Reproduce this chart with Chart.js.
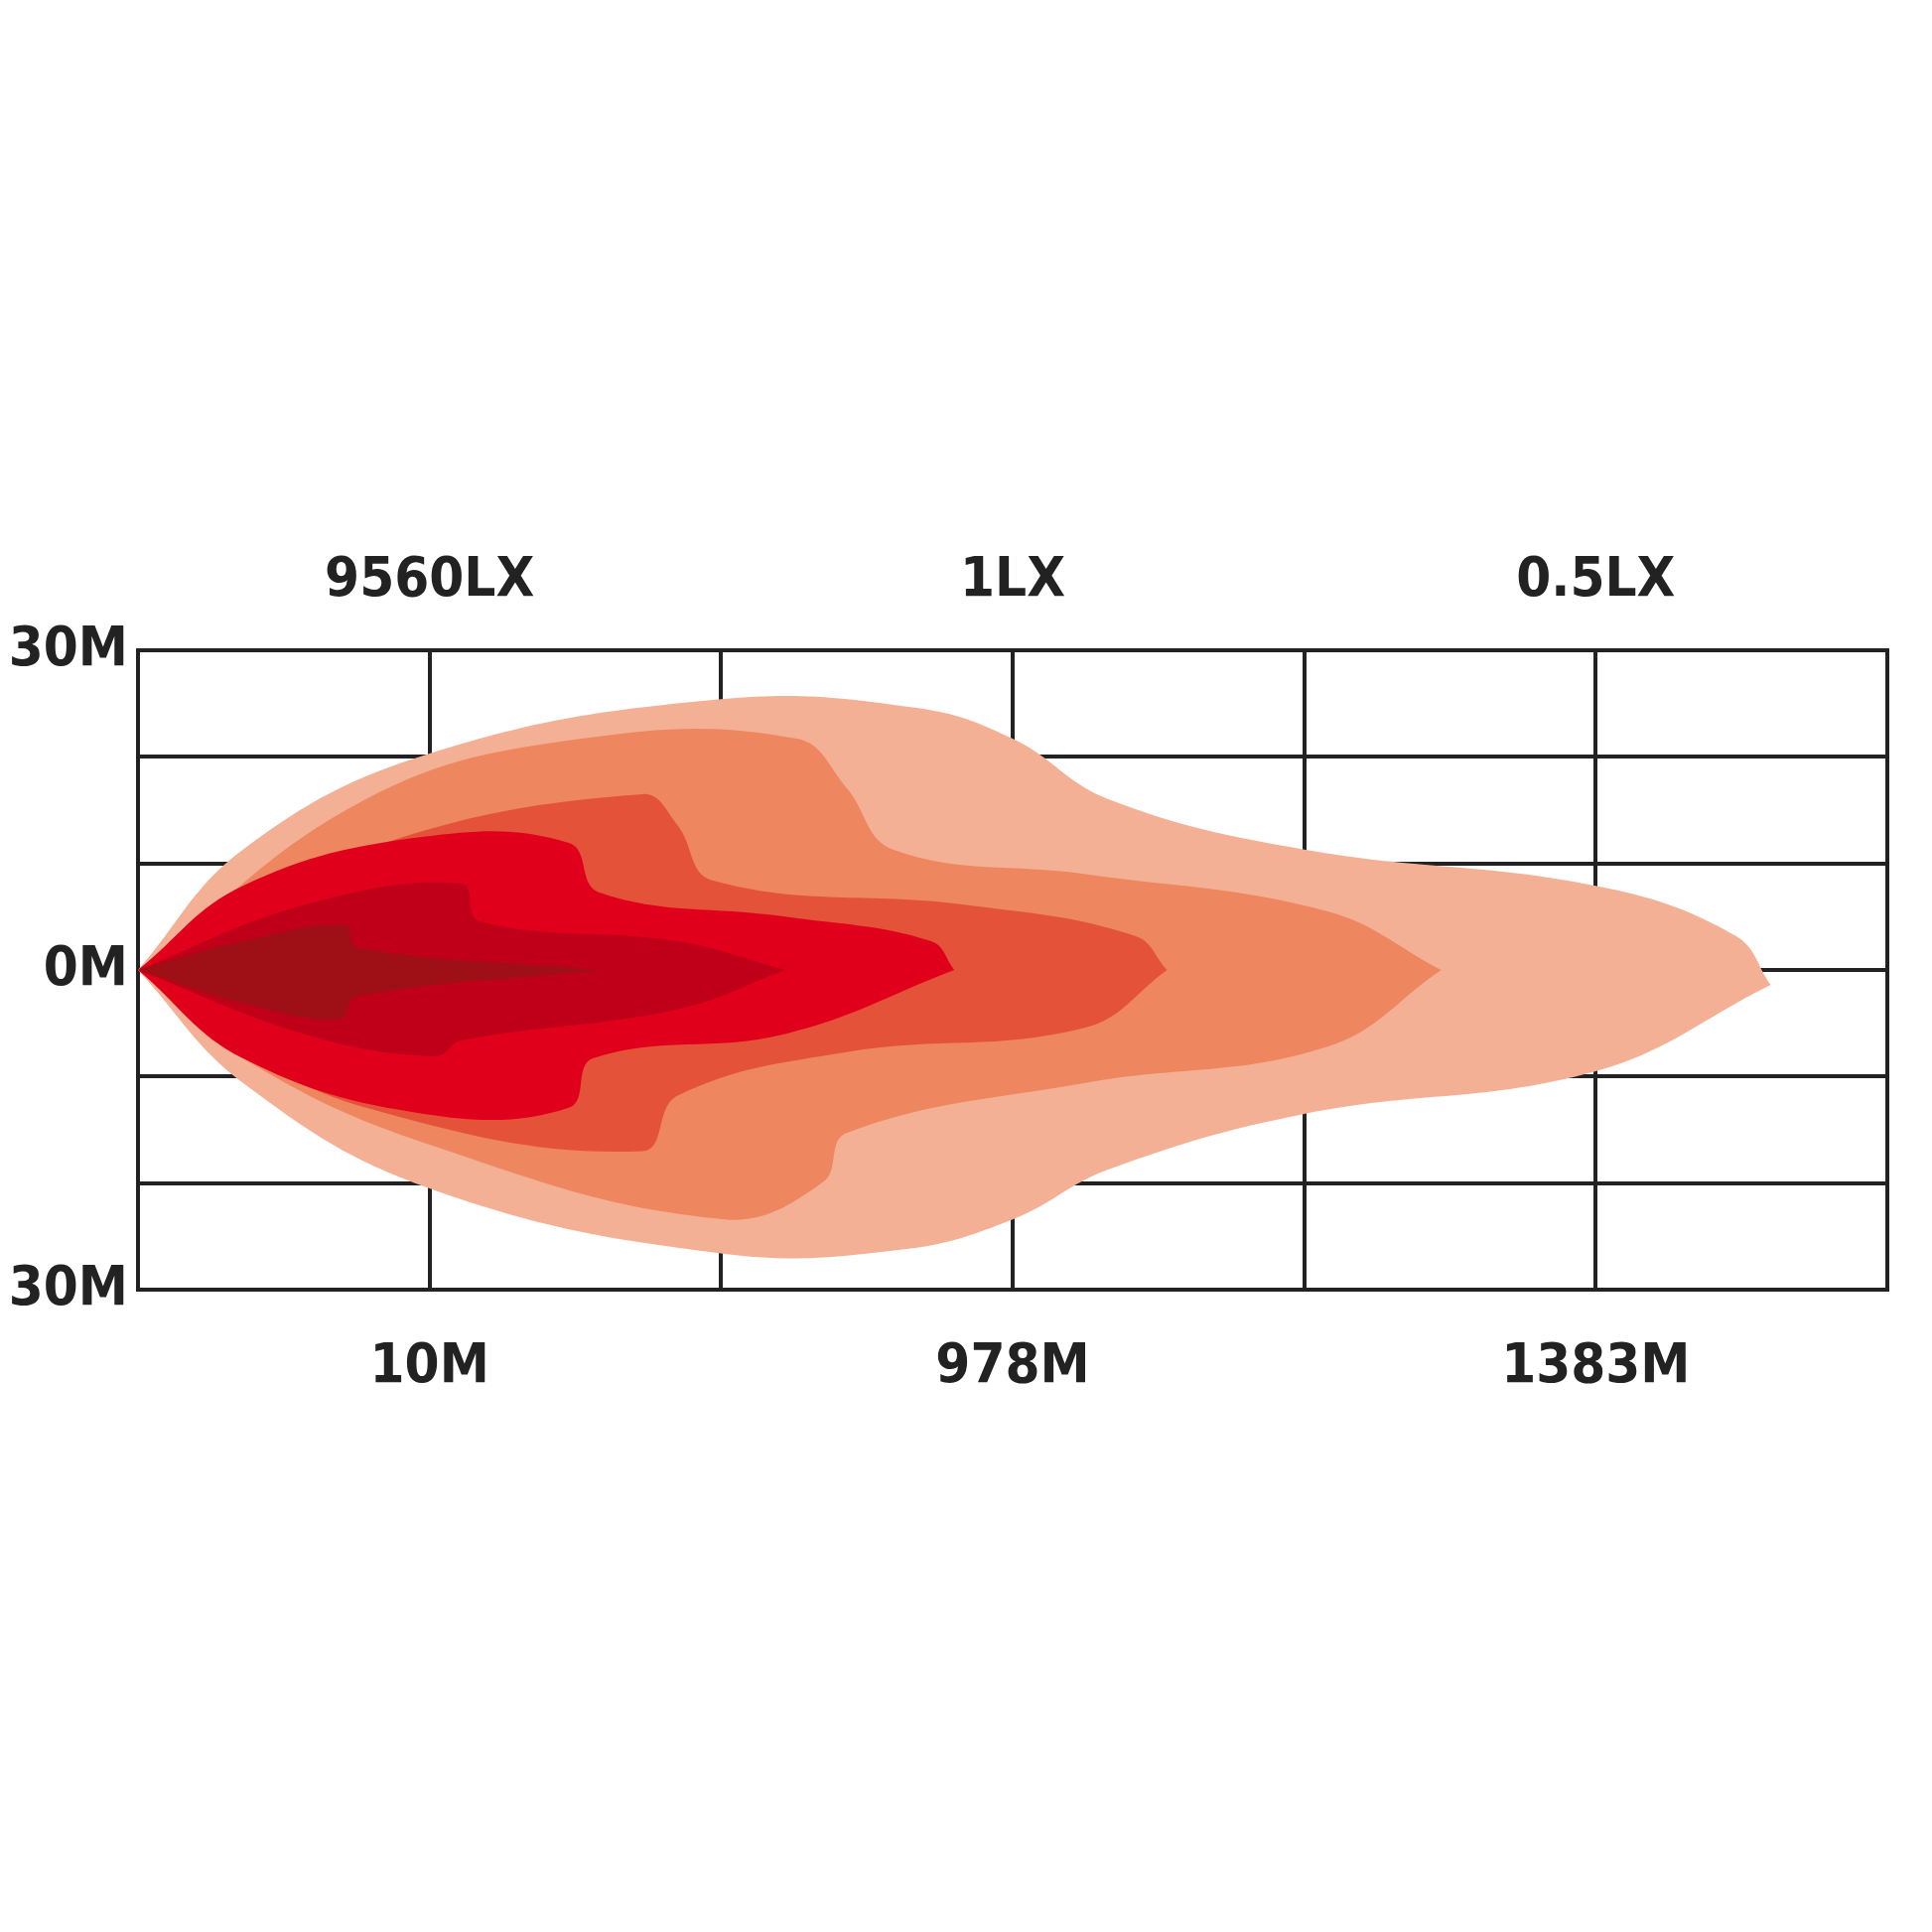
<!DOCTYPE html>
<html>
<head>
<meta charset="utf-8">
<style>html,body{margin:0;padding:0;background:#fff}</style>
<script src="https://cdn.jsdelivr.net/npm/chart.js@4.4.0/dist/chart.umd.min.js"></script>
</head>
<body>
<canvas id="beam" width="1946" height="1946"></canvas>
<script>
// distance ticks (x units) and labels
var xTickPos = [1, 3, 5];
var bottomLabels = ["10M", "978M", "1383M"];
var topLabels = ["9560LX", "1LX", "0.5LX"];
var yLabels = { "3": "30M", "0": "0M", "-3": "30M" };

// beam contours, outer to inner: upper and lower edges [x, y]
var colors = ["#F4B095", "#EE8660", "#E5523A", "#E0001B", "#C00018", "#9E0F16"];
var upper1 = [[0,0],[0.36,1.13],[1,2.03],[2,2.54],[2.67,2.46],[3,2.17],[3.33,1.6],[4,1.13],[5,0.79],[5.48,0.32],[5.6,-0.14]];
var lower1 = [[0,0],[0.36,-1.06],[1,-2.05],[2,-2.66],[2.63,-2.62],[3,-2.34],[3.33,-1.87],[4,-1.35],[5,-0.95],[5.6,-0.14]];
var upper2 = [[0,0],[0.78,1.6],[1.52,2.17],[2.26,2.17],[2.43,1.71],[2.59,1.13],[3.25,0.9],[4.08,0.55],[4.47,0]];
var lower2 = [[0,0],[0.36,-0.83],[1,-1.64],[2.01,-2.34],[2.35,-1.99],[2.43,-1.53],[3.25,-1.06],[4.08,-0.72],[4.47,0]];
var upper3 = [[0,0],[0.78,1.13],[1.73,1.65],[1.85,1.36],[1.97,0.84],[2.84,0.61],[3.42,0.32],[3.53,0]];
var lower3 = [[0,0],[0.28,-0.6],[0.78,-1.29],[1.73,-1.7],[1.85,-1.18],[2.43,-0.77],[3.25,-0.54],[3.53,0]];
var upper4 = [[0,0],[0.36,0.79],[0.98,1.25],[1.48,1.19],[1.58,0.73],[2.22,0.5],[2.72,0.27],[2.8,0]];
var lower4 = [[0,0],[0.36,-0.83],[0.98,-1.35],[1.48,-1.29],[1.56,-0.83],[2.22,-0.6],[2.8,0]];
var upper5 = [[0,0],[0.57,0.61],[1.11,0.81],[1.17,0.46],[1.85,0.27],[2.22,0]];
var lower5 = [[0,0],[0.57,-0.6],[1.02,-0.81],[1.11,-0.66],[1.85,-0.37],[2.22,0]];
var upper6 = [[0,0],[0.36,0.27],[0.71,0.42],[0.75,0.21],[1.58,0]];
var lower6 = [[0,0],[0.36,-0.31],[0.69,-0.46],[0.75,-0.25],[1.58,0]];

var uppers = [upper1, upper2, upper3, upper4, upper5, upper6];
var lowers = [lower1, lower2, lower3, lower4, lower5, lower6];

function pts(a) {
  return a.map(function (p) { return { x: p[0], y: p[1] }; });
}

var datasets = [];
for (var i = 0; i < colors.length; i++) {
  datasets.push({
    data: pts(uppers[i]), showLine: true, borderWidth: 0, pointRadius: 0,
    borderColor: colors[i], backgroundColor: colors[i], fill: "+1",
    tension: 0.4, order: 20 - i * 2
  });
  datasets.push({
    data: pts(lowers[i]), showLine: true, borderWidth: 0, pointRadius: 0,
    borderColor: colors[i], backgroundColor: colors[i], fill: false,
    tension: 0.4, order: 19 - i * 2
  });
}

var font = { family: "'DejaVu Sans Condensed', 'Liberation Sans Narrow', sans-serif", size: 56, weight: "bold" };
var allTicks = function (s) { s.ticks = [0,1,2,3,4,5,6].map(function (v) { return { value: v }; }); };

new Chart(document.getElementById("beam"), {
  type: "scatter",
  data: { datasets: datasets },
  options: {
    responsive: false,
    devicePixelRatio: 1,
    animation: false,
    layout: { padding: { top: 525, bottom: 517, left: 0, right: 3 } },
    plugins: { legend: { display: false }, tooltip: { enabled: false } },
    scales: {
      x: {
        type: "linear", min: 0, max: 6, position: "bottom",
        afterFit: function (s) { s.height = 130; },
        afterBuildTicks: allTicks,
        grid: { color: "#222", lineWidth: 4, drawTicks: false },
        border: { display: false },
        ticks: {
          color: "#222", font: font, padding: 45, maxRotation: 0, autoSkip: false,
          callback: function (v) { var k = xTickPos.indexOf(v); return k >= 0 ? bottomLabels[k] : ""; }
        }
      },
      x2: {
        type: "linear", min: 0, max: 6, position: "top",
        afterFit: function (s) { s.height = 130; },
        afterBuildTicks: allTicks,
        grid: { display: false },
        border: { display: false },
        ticks: {
          color: "#222", font: font, padding: 28, maxRotation: 0, autoSkip: false,
          callback: function (v) { var k = xTickPos.indexOf(v); return k >= 0 ? topLabels[k] : ""; }
        }
      },
      y: {
        type: "linear", min: -3, max: 3,
        afterFit: function (s) { s.width = 139; },
        grid: { color: "#222", lineWidth: 4, drawTicks: false },
        border: { display: false },
        ticks: {
          color: "#222", font: font, padding: 10, stepSize: 1, autoSkip: false,
          callback: function (v) { return yLabels[String(v)] || ""; }
        }
      }
    }
  },
  plugins: [{
    id: "frame",
    beforeDatasetsDraw: function (c) {
      var a = c.chartArea, ctx = c.ctx;
      ctx.save();
      ctx.strokeStyle = "#222"; ctx.lineWidth = 4;
      ctx.strokeRect(a.left, a.top, a.right - a.left, a.bottom - a.top);
      ctx.restore();
    }
  }]
});
</script>
</body>
</html>
